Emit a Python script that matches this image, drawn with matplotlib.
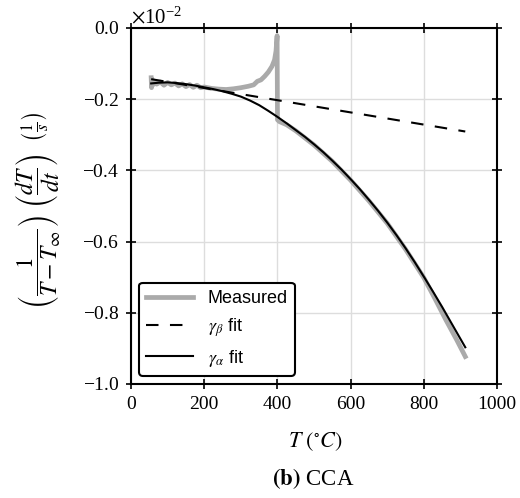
import matplotlib

matplotlib.use("Agg")
import matplotlib.pyplot as plt
from matplotlib.ticker import ScalarFormatter

plt.rcParams["font.family"] = "serif"
plt.rcParams["font.serif"] = ["Liberation Serif", "DejaVu Serif"]
plt.rcParams["mathtext.fontset"] = "stix"

# values in units of 1e-2 (1/s)
meas_T = [55, 56, 58, 60, 65, 70, 80, 90, 100, 110, 120, 130, 140, 150, 160, 170, 180, 190,
          200, 220, 240, 260, 280, 300, 320, 335, 345, 355, 365, 375, 385, 392, 396, 399,
          400, 405, 425, 450, 500, 550, 600, 650, 700, 750, 800, 830, 860, 890, 913]
meas_y = [-0.140, -0.168, -0.145, -0.160, -0.150, -0.158, -0.152, -0.161, -0.153, -0.160, -0.155,
          -0.163, -0.157, -0.165, -0.159, -0.167, -0.161, -0.168, -0.166, -0.170, -0.172, -0.173,
          -0.171, -0.168, -0.164, -0.160, -0.150, -0.146, -0.136, -0.124, -0.108, -0.090, -0.065,
          -0.022, -0.258, -0.263, -0.272, -0.289, -0.329, -0.375, -0.428, -0.486, -0.549, -0.622,
          -0.702, -0.760, -0.820, -0.877, -0.923]

beta_T = [55, 913]
beta_y = [-0.144, -0.291]

alpha_T = [55, 75, 100, 125, 150, 175, 200, 225, 250, 275, 300, 325, 350, 375, 400, 425, 450,
           475, 500, 525, 550, 575, 600, 625, 650, 675, 700, 725, 750, 775, 800, 825, 850, 875, 913]
alpha_y = [-0.156, -0.154, -0.153, -0.155, -0.158, -0.162, -0.167, -0.172, -0.178, -0.185,
           -0.193, -0.204, -0.217, -0.233, -0.250, -0.268, -0.287, -0.306, -0.327, -0.349,
           -0.373, -0.398, -0.425, -0.453, -0.483, -0.514, -0.547, -0.582, -0.619, -0.658,
           -0.699, -0.741, -0.784, -0.829, -0.897]

scale = 1e-2
fig = plt.figure(figsize=(5.2, 4.98), dpi=100)
ax = fig.add_axes([0.252, 0.229, 0.704, 0.715])

ax.plot(meas_T, [v * scale for v in meas_y], color="#aaaaaa", lw=3.4, label="Measured",
        solid_joinstyle="round", zorder=2)
ax.plot(beta_T, [v * scale for v in beta_y], color="black", lw=1.5, dashes=(6, 5.5),
        label=r"$\gamma_\beta$ fit", zorder=3)
ax.plot(alpha_T, [v * scale for v in alpha_y], color="black", lw=1.5,
        label=r"$\gamma_\alpha$ fit", zorder=3)

ax.set_xlim(0, 1000)
ax.set_ylim(-1.0e-2, 0.0)
ax.set_xticks([0, 200, 400, 600, 800, 1000])
ax.set_yticks([-1.0e-2, -0.8e-2, -0.6e-2, -0.4e-2, -0.2e-2, 0.0])
fmt = ScalarFormatter(useMathText=True)
fmt.set_powerlimits((-1, 1))
ax.yaxis.set_major_formatter(fmt)
ax.yaxis.get_offset_text().set_fontsize(15)

ax.grid(color="#dddddd", lw=1.0)
ax.set_axisbelow(True)
for s in ax.spines.values():
    s.set_linewidth(1.5)
ax.tick_params(direction="inout", length=7, width=1.2, labelsize=14, pad=5,
               top=True, right=True)

ax.set_xlabel(r"$T\ (^{\circ}C)$", fontsize=16)
ax.xaxis.set_label_coords(0.503, -0.13)
ax.set_ylabel(r"$\left(\dfrac{1}{T-T_{\infty}}\right)\ \left(\dfrac{dT}{dt}\right)\ \ \left(\frac{1}{s}\right)$",
              fontsize=17)
ax.yaxis.set_label_coords(-0.186, 0.487)

leg = ax.legend(loc="lower left", bbox_to_anchor=(0.022, 0.023), borderaxespad=0,
                prop={"family": "Liberation Sans", "size": 13}, handlelength=2.6,
                frameon=True, fancybox=True, framealpha=1, edgecolor="black")
leg.get_frame().set_linewidth(1.5)

fig.text(0.603, 0.038, r"$\mathbf{(b)}$ CCA", ha="center", va="center", fontsize=16.5)

fig.savefig("out.png", dpi=100)
